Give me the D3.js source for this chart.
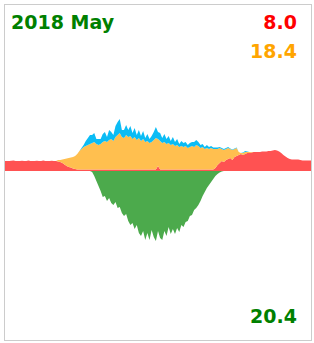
<!DOCTYPE html>
<html>
<head>
<meta charset="utf-8">
<script src="https://cdn.jsdelivr.net/npm/d3@7"></script>
<style>
  body { margin: 0; background: #fff; }
  text { font-family: "DejaVu Sans", sans-serif; font-weight: bold; }
</style>
</head>
<body>
<div id="chart"></div>
<script>
// 10 minute samples over one day, watts
const minutes = d3.range(145).map(i => i * 10);

const gridImport = [
  500, 500, 500, 510, 520, 500,
  500, 500, 510, 500, 500, 520,
  500, 500, 500, 510, 500, 500,
  520, 500, 500, 500, 510, 500,
  500, 475, 450, 400, 325, 250,
  200, 175, 125, 100, 75, 75,
  80, 75, 70, 75, 75, 80,
  75, 75, 70, 75, 75, 80,
  75, 75, 75, 70, 75, 80,
  75, 75, 75, 70, 75, 75,
  80, 75, 75, 75, 70, 75,
  75, 80, 75, 75, 75, 70,
  250, 75, 75, 80, 75, 75,
  70, 75, 75, 80, 75, 75,
  75, 70, 75, 75, 80, 75,
  75, 75, 70, 75, 75, 80,
  75, 75, 80, 150, 300, 400,
  500, 450, 550, 600, 650, 550,
  700, 750, 800, 850, 800, 850,
  900, 900, 925, 950, 950, 950,
  950, 975, 975, 975, 1000, 1000,
  1025, 1050, 1025, 975, 900, 800,
  725, 650, 600, 575, 575, 575,
  575, 550, 525, 525, 525, 525,
  525
];

const selfUse = [
  0, 0, 0, 0, 0, 0,
  0, 0, 0, 0, 0, 0,
  0, 0, 0, 0, 0, 0,
  0, 0, 0, 0, 0, 0,
  0, 75, 100, 175, 275, 375,
  450, 500, 575, 650, 775, 925,
  1025, 1125, 1175, 1225, 1275, 1325,
  1375, 1275, 1225, 1275, 1375, 1425,
  1375, 1475, 1525, 1425, 1625, 1725,
  1825, 1625, 1575, 1725, 1625, 1675,
  1525, 1625, 1475, 1575, 1425, 1525,
  1375, 1425, 1325, 1375, 1475, 1575,
  1350, 1425, 1325, 1375, 1275, 1325,
  1225, 1275, 1175, 1225, 1125, 1175,
  1125, 1175, 1075, 1125, 1175, 1125,
  1225, 1175, 1075, 1125, 1025, 1075,
  1025, 1075, 1025, 950, 800, 750,
  600, 600, 550, 550, 450, 500,
  400, 400, 150, 50, 100, 100,
  50, 50, 25, 0, 0, 0,
  0, 0, 0, 0, 0, 0,
  0, 0, 0, 0, 0, 0,
  0, 0, 0, 0, 0, 0,
  0, 0, 0, 0, 0, 0,
  0
];

const surplus = [
  0, 0, 0, 0, 0, 0,
  0, 0, 0, 0, 0, 0,
  0, 0, 0, 0, 0, 0,
  0, 0, 0, 0, 0, 0,
  0, 0, 0, 0, 0, 0,
  0, 0, 0, 0, 0, 0,
  50, 100, 250, 350, 450, 400,
  450, 250, 300, 250, 400, 450,
  250, 500, 350, 300, 550, 650,
  700, 350, 400, 500, 350, 500,
  300, 450, 250, 400, 250, 400,
  200, 350, 200, 300, 400, 550,
  350, 400, 250, 400, 250, 350,
  200, 350, 200, 300, 150, 250,
  200, 200, 150, 200, 200, 250,
  250, 200, 150, 150, 100, 150,
  100, 100, 75, 75, 75, 50,
  50, 50, 50, 50, 25, 25,
  25, 25, 0, 0, 25, 50,
  25, 0, 0, 0, 0, 0,
  0, 0, 0, 0, 0, 0,
  0, 0, 0, 0, 0, 0,
  0, 0, 0, 0, 0, 0,
  0, 0, 0, 0, 0, 0,
  0
];

const exported = [
  0, 0, 0, 0, 0, 0,
  0, 0, 0, 0, 0, 0,
  0, 0, 0, 0, 0, 0,
  0, 0, 0, 0, 0, 0,
  0, 0, 0, 0, 0, 0,
  0, 0, 0, 0, 0, 0,
  0, 0, 0, 0, 0, 50,
  250, 500, 750, 1000, 1300, 1250,
  1500, 1350, 1600, 1700, 1550, 1850,
  1800, 2100, 2250, 2150, 2500, 2700,
  2600, 2900, 2700, 3100, 3250, 3000,
  3450, 3100, 3450, 2950, 3300, 3500,
  3000, 3350, 3450, 3000, 3250, 2800,
  3150, 2900, 3150, 2850, 3050, 2700,
  2800, 2550, 2500, 2250, 2200, 1950,
  1850, 1700, 1500, 1250, 1050, 850,
  700, 550, 400, 250, 150, 75,
  25, 0, 0, 0, 0, 0,
  0, 0, 0, 0, 0, 0,
  0, 0, 0, 0, 0, 0,
  0, 0, 0, 0, 0, 0,
  0, 0, 0, 0, 0, 0,
  0, 0, 0, 0, 0, 0,
  0, 0, 0, 0, 0, 0,
  0
];

const title = "2018 May";
const importTotal = "8.0";
const selfTotal = "18.4";
const exportTotal = "20.4";

const layerColors = ["#ff5252", "#ffbf4f", "#0bbcf5"];
const exportColor = "#4caa4c";

const width = 314, height = 343;

const svg = d3.select("#chart").append("svg")
  .attr("width", width)
  .attr("height", height);

svg.append("rect")
  .attr("x", 4.5).attr("y", 4.5)
  .attr("width", 307).attr("height", 336)
  .attr("fill", "#fff")
  .attr("stroke", "#cccccc");

const x = d3.scaleLinear().domain([0, 1440]).range([5, 311]);
const y = d3.scaleLinear().domain([-8350, 8350]).range([338, 4]);

const rows = minutes.map((m, i) => ({
  m: m,
  grid: gridImport[i],
  self: selfUse[i],
  extra: surplus[i],
  exp: exported[i]
}));

// stacked positive layers
const series = d3.stack().keys(["grid", "self", "extra"])(rows);

const area = d3.area()
  .x(d => x(d.data.m))
  .y0(d => y(d[0]))
  .y1(d => y(d[1]));

svg.selectAll("path.layer")
  .data(series)
  .join("path")
  .attr("class", "layer")
  .attr("fill", (d, i) => layerColors[i])
  .attr("d", area);

// export below zero
const exportArea = d3.area()
  .x(d => x(d.m))
  .y0(y(0))
  .y1(d => y(-d.exp));

svg.append("path")
  .datum(rows)
  .attr("fill", exportColor)
  .attr("d", exportArea);

// labels
svg.append("text")
  .attr("x", 11).attr("y", 29)
  .attr("font-size", 19)
  .attr("fill", "#008000")
  .text(title);

svg.append("text")
  .attr("x", 297).attr("y", 29)
  .attr("text-anchor", "end")
  .attr("font-size", 19)
  .attr("fill", "#ff0000")
  .text(importTotal);

svg.append("text")
  .attr("x", 297).attr("y", 58)
  .attr("text-anchor", "end")
  .attr("font-size", 19)
  .attr("fill", "#ffa500")
  .text(selfTotal);

svg.append("text")
  .attr("x", 297).attr("y", 323)
  .attr("text-anchor", "end")
  .attr("font-size", 19)
  .attr("fill", "#008000")
  .text(exportTotal);
</script>
</body>
</html>
